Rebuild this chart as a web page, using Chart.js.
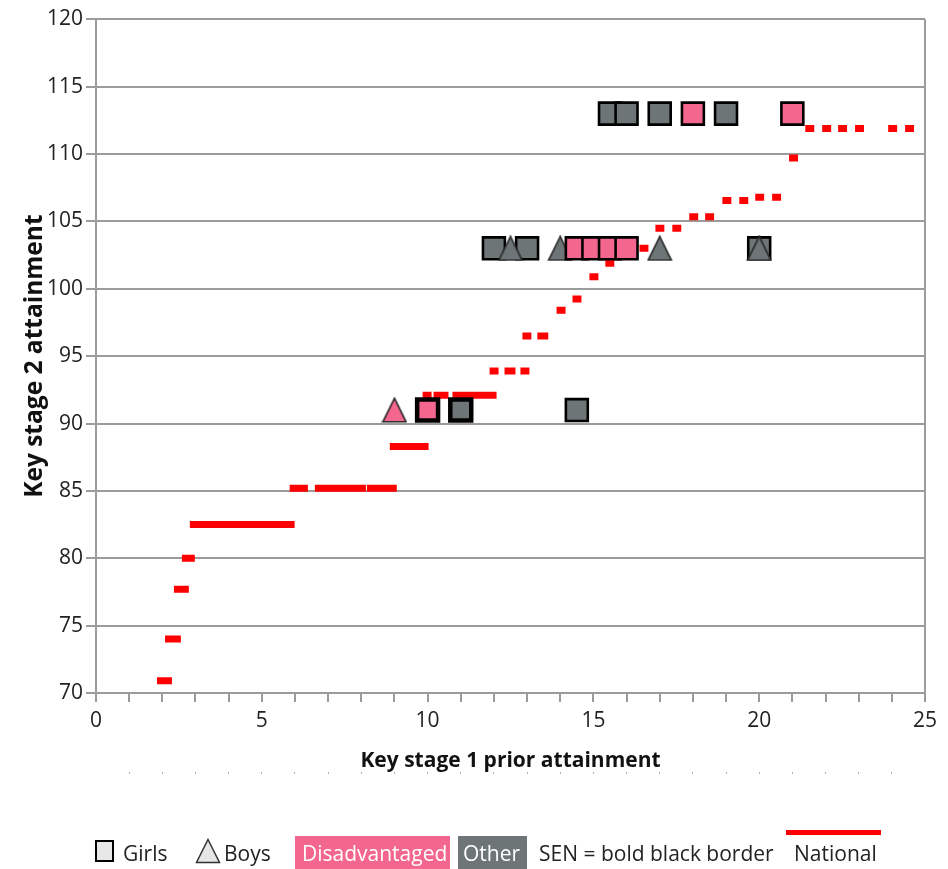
<!DOCTYPE html>
<html><head><meta charset="utf-8">
<script src="https://cdn.jsdelivr.net/npm/chart.js@4"></script>
<style>
html,body{margin:0;padding:0;background:#fff;}
#wrap{position:relative;width:948px;height:869px;overflow:hidden;font-family:'Open Sans',sans-serif;}
#c{position:absolute;left:0;top:0;}
.lg{position:absolute;font-size:21px;line-height:21px;color:#222;white-space:nowrap;}
.box{position:absolute;}
</style></head><body>
<div id="wrap">
<canvas id="c" width="948" height="869"></canvas>
<div class="box" style="left:95px;top:840px;width:15px;height:18px;background:#e8e8e8;border:2px solid #000;"></div>
<div class="lg" style="left:123px;top:843px;">Girls</div>
<svg class="box" style="left:195px;top:838px;" width="26" height="26"><polygon points="13,1.5 24.5,24.5 1.5,24.5" fill="#e6e6e6" stroke="#333" stroke-width="1.5"/></svg>
<div class="lg" style="left:224px;top:843px;">Boys</div>
<div class="box" style="left:295px;top:836px;width:155px;height:33px;background:#F3678E;"></div>
<div class="lg" style="left:302px;top:843px;color:#fff;">Disadvantaged</div>
<div class="box" style="left:458px;top:836px;width:69px;height:33px;background:#6D7577;"></div>
<div class="lg" style="left:463px;top:843px;color:#fff;">Other</div>
<div class="lg" style="left:539px;top:843px;">SEN = bold black border</div>
<div class="box" style="left:786px;top:830px;width:95px;height:5px;background:#ff0000;"></div>
<div class="lg" style="left:794px;top:843px;">National</div>
</div>
<script>
// ---- data ----
const xMajorStep = 5;
const xMin = 0, xMax = 25;
const yMin = 70, yMax = 120, yStep = 5;

// National benchmark segments (KS1 start, KS1 end, KS2 value)
const natStart = [1.84, 2.08, 2.35, 2.59, 2.83, 5.84, 6.60, 8.17, 8.86, 9.85, 10.18, 10.75, 11.87, 12.32, 12.80, 12.86, 13.31, 13.89, 14.37, 14.88, 15.36, 16.39, 16.87, 17.38, 17.89, 18.37, 18.89, 19.40, 19.88, 20.39, 20.90, 21.39, 21.90, 22.38, 22.89, 23.89, 24.40];
const natEnd   = [2.29, 2.56, 2.80, 2.98, 5.99, 6.39, 8.14, 9.07, 10.03, 10.12, 10.63, 12.08, 12.14, 12.65, 13.07, 13.13, 13.64, 14.16, 14.64, 15.15, 15.63, 16.66, 17.14, 17.65, 18.16, 18.64, 19.16, 19.67, 20.15, 20.66, 21.17, 21.66, 22.17, 22.65, 23.16, 24.16, 24.67];
const natY     = [70.9, 74.0, 77.7, 80.0, 82.5, 85.2, 85.2, 85.2, 88.3, 92.1, 92.1, 92.1, 93.9, 93.9, 93.9, 96.5, 96.5, 98.4, 99.25, 100.9, 101.9, 103.0, 104.5, 104.5, 105.35, 105.35, 106.55, 106.55, 106.8, 106.8, 109.7, 111.9, 111.9, 111.9, 111.9, 111.9, 111.9];

// Pupils
const girlsOtherX   = [15.5, 16, 17, 19, 12, 13, 20, 11, 14.5];
const girlsOtherY   = [113, 113, 113, 113, 103, 103, 103, 91, 91];
const girlsOtherSEN = [0, 0, 0, 0, 0, 0, 0, 1, 0];

const girlsDisX   = [18, 21, 14.5, 15, 15.5, 16, 10];
const girlsDisY   = [113, 113, 103, 103, 103, 103, 91];
const girlsDisSEN = [0, 0, 0, 0, 0, 0, 1];

const boysOtherX = [12.5, 14, 17, 20];
const boysOtherY = [103, 103, 103, 103];
const boysDisX = [9];
const boysDisY = [91];

// ---- styles ----
const PINK = '#F3678E', GREY = '#6D7577', GRID = '#9b9b9b';
function tri(fill){
  const c=document.createElement('canvas'); c.width=26; c.height=26;
  const g=c.getContext('2d');
  g.beginPath(); g.moveTo(13,1.2); g.lineTo(24.6,24.8); g.lineTo(1.4,24.8); g.closePath();
  g.fillStyle=fill; g.fill(); g.lineWidth=1.6; g.strokeStyle='#2a2a2a'; g.lineJoin='miter'; g.stroke();
  return c;
}
const pts = (xs, ys) => xs.map((x, i) => ({x, y: ys[i]}));
const natData = [];
natStart.forEach((s, i) => { natData.push({x: s, y: natY[i]}, {x: natEnd[i], y: natY[i]}, {x: natEnd[i], y: null}); });

Chart.defaults.font.family = "'Open Sans', sans-serif";
new Chart(document.getElementById('c'), {
  type: 'scatter',
  data: { datasets: [
    { label: 'Disadvantaged girls', data: pts(girlsDisX, girlsDisY), order: 1,
      pointStyle: 'rect', pointRadius: girlsDisSEN.map(s => s ? 14.8 : 15.5),
      backgroundColor: PINK, borderColor: '#000', pointBorderWidth: girlsDisSEN.map(s => s ? 4.5 : 2.6) },
    { label: 'Disadvantaged boys', data: pts(boysDisX, boysDisY), order: 2,
      pointStyle: tri(PINK), pointRadius: 13 },
    { label: 'Other boys', data: pts(boysOtherX, boysOtherY), order: 2,
      pointStyle: tri(GREY), pointRadius: 13 },
    { label: 'Other girls', data: pts(girlsOtherX, girlsOtherY), order: 3,
      pointStyle: 'rect', pointRadius: girlsOtherSEN.map(s => s ? 14.8 : 15.5),
      backgroundColor: GREY, borderColor: '#000', pointBorderWidth: girlsOtherSEN.map(s => s ? 4.5 : 2.6) },
    { label: 'National', data: natData, order: 10, showLine: true, spanGaps: false,
      borderColor: '#ff0000', borderWidth: 7, pointRadius: 0, borderCapStyle: 'butt' }
  ]},
  options: {
    responsive: false, animation: false, events: [],
    layout: { padding: { left: 0, right: 23, top: 17, bottom: 94 } },
    plugins: { legend: { display: false }, tooltip: { enabled: false } },
    scales: {
      x: { type: 'linear', position: 'bottom', min: xMin, max: xMax, weight: 0,
        afterFit: s => { s.height = 79; },
        ticks: { stepSize: 1, autoSkip: false, maxRotation: 0, padding: 6, color: '#222', font: { size: 21 },
          callback: v => (v % xMajorStep === 0 ? String(v) : '') },
        grid: { color: c => (c.tick && c.tick.value === xMax ? GRID : 'rgba(0,0,0,0)'), lineWidth: 2,
          tickColor: GRID, tickLength: 9 },
        border: { display: true, color: GRID, width: 2 },
        title: { display: true, text: 'Key stage 1 prior attainment', color: '#111',
          font: { size: 21, weight: 'bold' }, padding: { top: 0, bottom: -2 } } },
      x2: { type: 'linear', position: 'bottom', min: xMin, max: xMax, weight: 5,
        afterFit: s => { s.height = 3; },
        ticks: { display: false, stepSize: 1, autoSkip: false },
        grid: { drawOnChartArea: false, tickLength: 2, lineWidth: 1,
          tickColor: c => (c.tick && (c.tick.value === xMin || c.tick.value === xMax) ? 'rgba(0,0,0,0)' : '#b0b0b0') },
        border: { display: false } },
      y: { min: yMin, max: yMax,
        afterFit: s => { s.width = 96; },
        ticks: { stepSize: yStep, padding: 3, color: '#222', font: { size: 21 } },
        grid: { color: GRID, lineWidth: 2, tickLength: 10 },
        border: { color: GRID, width: 2 },
        title: { display: true, text: 'Key stage 2 attainment', color: '#111',
          font: { size: 24.5, weight: 'bold' }, padding: { top: 20, bottom: 0 } } }
    }
  }
});
</script>
</body></html>
